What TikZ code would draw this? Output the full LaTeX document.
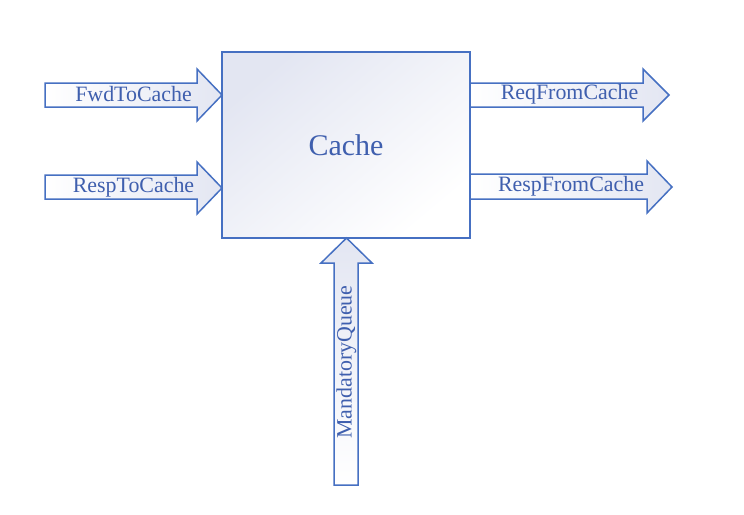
\documentclass[tikz,border=0pt]{standalone}
\usepackage{fontspec}
\setmainfont{Liberation Serif}
\definecolor{edge}{HTML}{4670C2}
\definecolor{lav}{HTML}{E3E6F2}
\definecolor{txt}{HTML}{3F5FAE}
\begin{document}
\begin{tikzpicture}[x=1pt,y=-1pt,
  blockarrow/.style={draw=edge, line width=1.5pt, line join=miter},
  lbl/.style={text=txt, font=\fontsize{21.9}{24}\selectfont, inner sep=0pt},
  box/.style={draw=edge, line width=1.5pt, minimum width=248pt, minimum height=186pt,
    shading=axis, top color=lav, bottom color=white, shading angle=40,
    text=txt, font=\fontsize{30}{34}\selectfont}]
\useasboundingbox (0,0) rectangle (744,514);
% Cache block
\node[box] (cache) at (346,145) {Cache};
% FwdToCache
\shade[blockarrow, left color=white, right color=lav]
  (45,83) -- (197,83) -- (197,69) -- (222,95) -- (197,121) -- (197,107) -- (45,107) -- cycle;
\node[lbl] (fwd) at (133.5,94.5) {FwdToCache};
% RespToCache
\shade[blockarrow, left color=white, right color=lav]
  (45,175) -- (197,175) -- (197,162) -- (222,188) -- (197,214) -- (197,199) -- (45,199) -- cycle;
\node[lbl] (resp) at (133.5,187) {RespToCache};
% ReqFromCache
\shade[blockarrow, left color=white, right color=lav]
  (470,83) -- (643,83) -- (643,69) -- (669,95) -- (643,121) -- (643,107) -- (470,107) -- cycle;
\node[lbl] (req) at (569.5,94.5) {ReqFromCache};
% RespFromCache
\shade[blockarrow, left color=white, right color=lav]
  (470,174) -- (647,174) -- (647,161) -- (672,187) -- (647,213) -- (647,199) -- (470,199) -- cycle;
\node[lbl] (respfrom) at (571,186) {RespFromCache};
% MandatoryQueue
\shade[blockarrow, top color=lav, bottom color=white]
  (334,485) -- (334,263) -- (321,263) -- (346.5,238) -- (372,263) -- (358,263) -- (358,485) -- cycle;
\node[lbl, rotate=90] (mq) at (346.5,362) {MandatoryQueue};
\end{tikzpicture}
\end{document}
